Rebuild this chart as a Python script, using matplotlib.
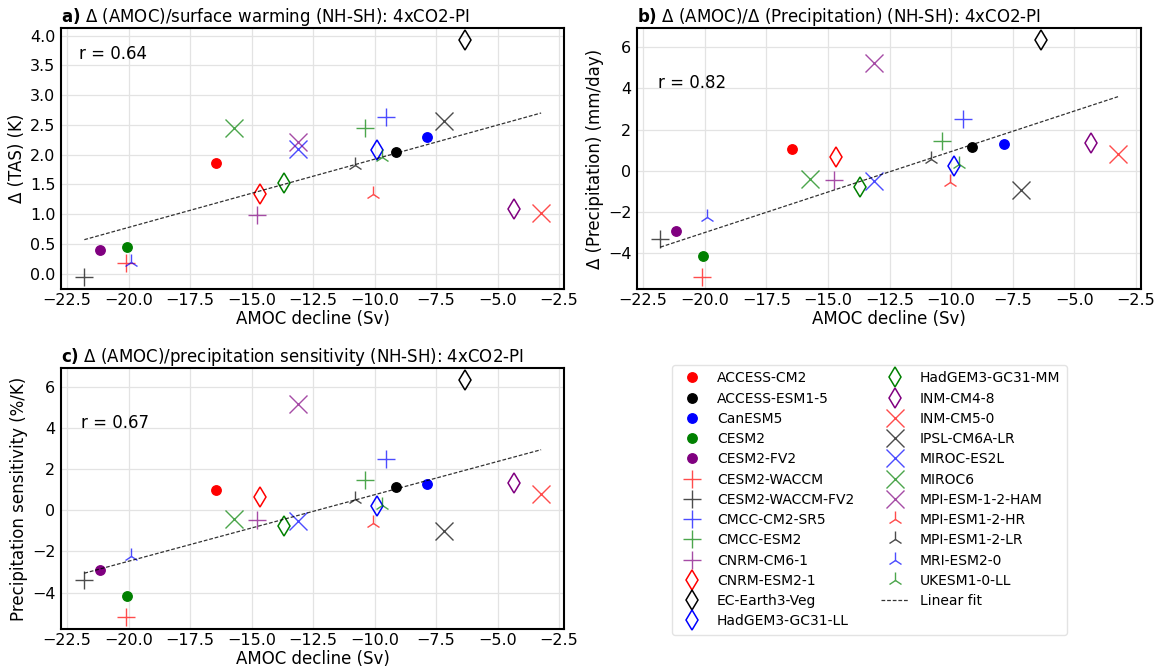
import numpy as np
import matplotlib
matplotlib.use("Agg")
import matplotlib.pyplot as plt
from matplotlib.ticker import MultipleLocator

models = ["ACCESS-CM2", "ACCESS-ESM1-5", "CanESM5", "CESM2", "CESM2-FV2",
          "CESM2-WACCM", "CESM2-WACCM-FV2", "CMCC-CM2-SR5", "CMCC-ESM2", "CNRM-CM6-1",
          "CNRM-ESM2-1", "EC-Earth3-Veg", "HadGEM3-GC31-LL", "HadGEM3-GC31-MM", "INM-CM4-8",
          "INM-CM5-0", "IPSL-CM6A-LR", "MIROC-ES2L", "MIROC6", "MPI-ESM-1-2-HAM",
          "MPI-ESM1-2-HR", "MPI-ESM1-2-LR", "MRI-ESM2-0", "UKESM1-0-LL"]

amoc_decline = [-16.44, -9.14, -7.87, -20.07, -21.17,
                -20.10, -21.80, -9.53, -10.39, -14.77,
                -14.67, -6.34, -9.90, -13.69, -4.34,
                -3.23, -7.16, -13.12, -15.72, -13.12,
                -10.05, -10.81, -19.90, -9.68]

d_tas = [1.86, 2.04, 2.29, 0.44, 0.39,
         0.17, -0.06, 2.63, 2.45, 0.98,
         1.33, 3.93, 2.07, 1.52, 1.09,
         1.02, 2.57, 2.09, 2.44, 2.21,
         1.34, 1.83, 0.20, 1.96]

d_precip = [1.04, 1.13, 1.30, -4.15, -2.92,
            -5.19, -3.34, 2.51, 1.46, -0.45,
            0.68, 6.37, 0.21, -0.78, 1.35,
            0.81, -0.94, -0.49, -0.41, 5.24,
            -0.58, 0.57, -2.24, 0.32]

precip_sens = [1.02, 1.15, 1.28, -4.15, -2.91,
               -5.20, -3.38, 2.52, 1.48, -0.46,
               0.68, 6.37, 0.23, -0.78, 1.33,
               0.81, -0.98, -0.49, -0.42, 5.20,
               -0.59, 0.55, -2.24, 0.28]

# linear fit coefficients (slope, intercept) and correlation as shown
fit_a = (0.1147, 3.07)
fit_b = (0.3947, 4.875)
fit_c = (0.3242, 4.01)
r_vals = [0.64, 0.82, 0.67]

colors = ["red", "black", "blue", "green", "purple"]
markers = ["o"] * 5 + ["+"] * 5 + ["d"] * 5 + ["x"] * 5 + ["2"] * 4


def style(i):
    m = markers[i]
    c = colors[i % 5]
    if m == "o":
        return dict(marker="o", color=c, markersize=6.8, linestyle="none")
    if m == "+":
        return dict(marker="+", color=c, markersize=13, markeredgewidth=1.0,
                    alpha=0.7, linestyle="none")
    if m == "d":
        return dict(marker="d", color=c, markerfacecolor="none", markersize=10.5,
                    markeredgewidth=1.1, linestyle="none")
    if m == "x":
        return dict(marker="x", color=c, markersize=13, markeredgewidth=1.0,
                    alpha=0.7, linestyle="none")
    return dict(marker="2", color=c, markersize=11.5, markeredgewidth=1.0,
                alpha=0.7, linestyle="none")


fig = plt.figure(figsize=(11.66, 6.70), dpi=100)

panels = [
    ([0.0523, 0.5687, 0.4314, 0.3896], d_tas, fit_a, "a)",
     " Δ (AMOC)/surface warming (NH-SH): 4xCO2-PI", "Δ (TAS) (K)", (0.036, 0.90)),
    ([0.5463, 0.5687, 0.4322, 0.3896], d_precip, fit_b, "b)",
     " Δ (AMOC)/Δ (Precipitation) (NH-SH): 4xCO2-PI", "Δ (Precipitation) (mm/day)", (0.041, 0.79)),
    ([0.0523, 0.0612, 0.4314, 0.3896], precip_sens, fit_c, "c)",
     " Δ (AMOC)/precipitation sensitivity (NH-SH): 4xCO2-PI", "Precipitation sensitivity (%/K)", (0.039, 0.79)),
]

handles = []
for k, (pos, yvals, fit, lab, title, ylab, rpos) in enumerate(panels):
    ax = fig.add_axes(pos)
    ax.grid(True, color="#e3e3e3", linewidth=0.9)
    ax.set_axisbelow(True)
    for i, name in enumerate(models):
        h, = ax.plot(amoc_decline[i], yvals[i], label=name, **style(i))
        if k == 0:
            handles.append(h)
    xs = np.array([min(amoc_decline), max(amoc_decline)])
    fl, = ax.plot(xs, fit[0] * xs + fit[1], linestyle="--", color="black",
                  linewidth=0.9, alpha=0.8, dashes=(3, 1.5), label="Linear fit")
    if k == 0:
        handles.append(fl)
        ax.yaxis.set_major_locator(MultipleLocator(0.5))
    ax.set_xlim(-22.75, -2.3)
    ax.set_xticks(np.arange(-22.5, -2.4, 2.5))
    ax.tick_params(labelsize=11.5, length=0)
    ax.tick_params(axis="x", pad=3)
    ax.tick_params(axis="y", pad=4)
    ax.set_xlabel("AMOC decline (Sv)", fontsize=12, labelpad=1)
    ax.set_ylabel(ylab, fontsize=12, labelpad=3)
    ax.text(rpos[0], rpos[1], f"r = {r_vals[k]:.2f}", transform=ax.transAxes,
            fontsize=12, va="center")
    ax.set_title(r"$\bf{" + lab + r"}$" + title, loc="left", fontsize=12, pad=3.5)
    for s in ax.spines.values():
        s.set_linewidth(1.5)

fig.legend(handles=handles, loc="upper left", bbox_to_anchor=(0.5763, 0.4552),
           borderaxespad=0, ncol=2, fontsize=10, frameon=True, fancybox=True,
           edgecolor="#dddddd", handlelength=2.0, labelspacing=0.45,
           columnspacing=1.93, borderpad=0.45)

fig.savefig("out.png", dpi=100)
